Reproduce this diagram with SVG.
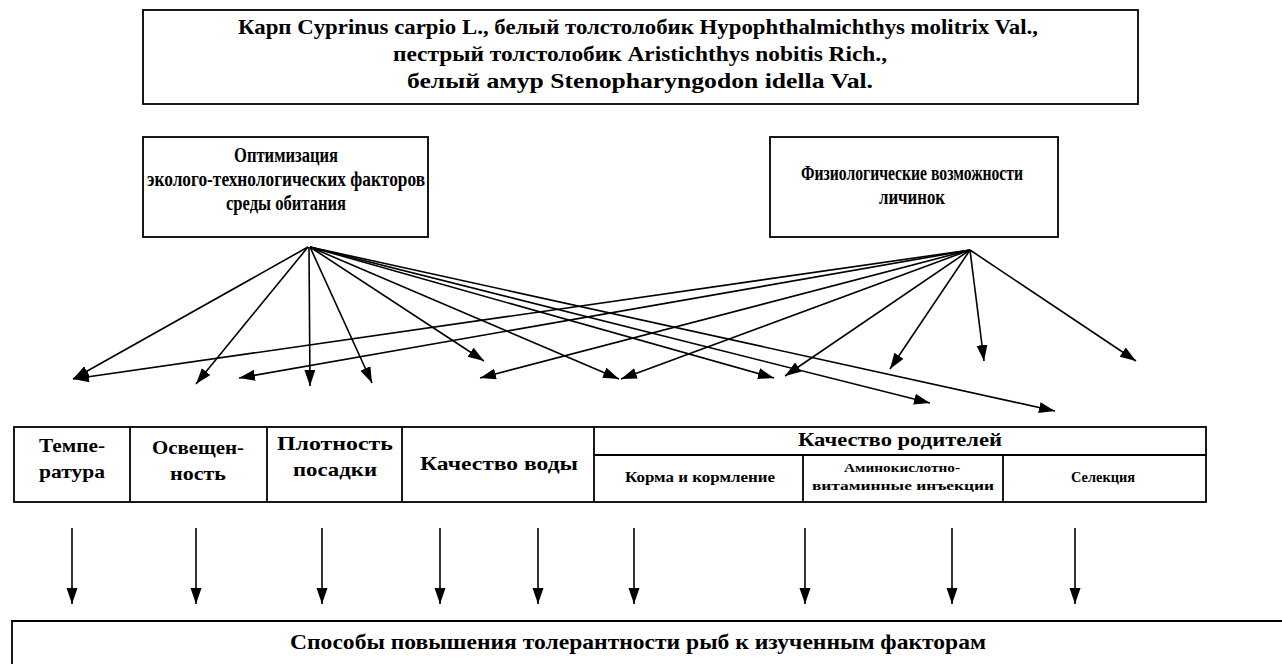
<svg xmlns="http://www.w3.org/2000/svg" width="1282" height="664" viewBox="0 0 1282 664">
<style>
.box{fill:#fff;stroke:#000;stroke-width:1.8}
.ln{stroke:#000;stroke-width:1.8;fill:none}
.t{font-family:"Liberation Serif","Times New Roman",serif;font-weight:bold;fill:#000;text-anchor:middle}
.a{stroke:#000;stroke-width:1.6;fill:none;marker-end:url(#ah)}
</style>
<defs>
<marker id="ah" markerUnits="userSpaceOnUse" markerWidth="18" markerHeight="12" refX="16" refY="5.5" orient="auto">
<path d="M0,0 L16,5.5 L0,11 z" fill="#000"/>
</marker>
</defs>
<rect width="1282" height="664" fill="#fff"/>
<g id="species">
<rect class="box" x="143" y="10" width="995" height="94"/>
<text class="t" x="638" y="34" font-size="21" textLength="800" lengthAdjust="spacingAndGlyphs">Карп Cyprinus carpio L., белый толстолобик Hypophthalmichthys molitrix Val.,</text>
<text class="t" x="640" y="61" font-size="21" textLength="494" lengthAdjust="spacingAndGlyphs">пестрый толстолобик Aristichthys nobitis Rich.,</text>
<text class="t" x="640" y="88" font-size="21" textLength="466" lengthAdjust="spacingAndGlyphs">белый амур Stenopharyngodon idella Val.</text>
</g>
<g id="optim">
<rect class="box" x="143" y="137" width="285" height="100"/>
<text class="t" x="286" y="162" font-size="20" textLength="104" lengthAdjust="spacingAndGlyphs">Оптимизация</text>
<text class="t" x="286" y="186" font-size="20" textLength="278" lengthAdjust="spacingAndGlyphs">эколого-технологических факторов</text>
<text class="t" x="286" y="210" font-size="20" textLength="120" lengthAdjust="spacingAndGlyphs">среды обитания</text>
</g>
<g id="physio">
<rect class="box" x="770" y="137" width="288" height="100"/>
<text class="t" x="912" y="180" font-size="20" textLength="222" lengthAdjust="spacingAndGlyphs">Физиологические возможности</text>
<text class="t" x="912" y="204" font-size="20" textLength="66" lengthAdjust="spacingAndGlyphs">личинок</text>
</g>
<g id="table">
<rect class="box" x="14" y="427" width="1192" height="75"/>
<line class="ln" x1="130" y1="427" x2="130" y2="502"/>
<line class="ln" x1="267" y1="427" x2="267" y2="502"/>
<line class="ln" x1="402" y1="427" x2="402" y2="502"/>
<line class="ln" x1="594" y1="427" x2="594" y2="502"/>
<line class="ln" x1="594" y1="455" x2="1206" y2="455"/>
<line class="ln" x1="803" y1="455" x2="803" y2="502"/>
<line class="ln" x1="1003" y1="455" x2="1003" y2="502"/>
</g>
<g id="temp"><text class="t" x="72" y="452" font-size="19" textLength="66" lengthAdjust="spacingAndGlyphs">Темпе-</text><text class="t" x="72" y="478" font-size="19" textLength="66" lengthAdjust="spacingAndGlyphs">ратура</text></g>
<g id="light"><text class="t" x="198" y="454" font-size="19" textLength="92" lengthAdjust="spacingAndGlyphs">Освещен-</text><text class="t" x="198" y="480" font-size="19" textLength="56" lengthAdjust="spacingAndGlyphs">ность</text></g>
<g id="density"><text class="t" x="335" y="450" font-size="19" textLength="116" lengthAdjust="spacingAndGlyphs">Плотность</text><text class="t" x="335" y="476" font-size="19" textLength="84" lengthAdjust="spacingAndGlyphs">посадки</text></g>
<g id="water"><text class="t" x="499" y="470" font-size="19" textLength="158" lengthAdjust="spacingAndGlyphs">Качество воды</text></g>
<g id="parents"><text class="t" x="900" y="446" font-size="19" textLength="204" lengthAdjust="spacingAndGlyphs">Качество родителей</text></g>
<g id="feed"><text class="t" x="700" y="482" font-size="14" textLength="150" lengthAdjust="spacingAndGlyphs">Корма и кормление</text></g>
<g id="amino"><text class="t" x="902" y="472" font-size="13" textLength="116" lengthAdjust="spacingAndGlyphs">Аминокислотно-</text><text class="t" x="903" y="490" font-size="13" textLength="182" lengthAdjust="spacingAndGlyphs">витаминные инъекции</text></g>
<g id="selection"><text class="t" x="1103" y="482" font-size="14" textLength="64" lengthAdjust="spacingAndGlyphs">Селекция</text></g>
<g id="methods">
<path class="ln" d="M12,664 L12,621 L1282,621"/>
<text class="t" x="638" y="649" font-size="21" textLength="696" lengthAdjust="spacingAndGlyphs">Способы повышения толерантности рыб к изученным факторам</text>
</g>
<g id="connectors">
<line class="a" x1="308" y1="247" x2="73" y2="379"/>
<line class="a" x1="308" y1="247" x2="196" y2="384"/>
<line class="a" x1="309" y1="247" x2="310" y2="386"/>
<line class="a" x1="310" y1="247" x2="372" y2="383"/>
<line class="a" x1="310" y1="247" x2="484" y2="361"/>
<line class="a" x1="310" y1="247" x2="619" y2="379"/>
<line class="a" x1="310" y1="247" x2="774" y2="378"/>
<line class="a" x1="310" y1="247" x2="930" y2="403"/>
<line class="a" x1="310" y1="247" x2="1055" y2="411"/>
<line class="a" x1="970" y1="250" x2="73" y2="379"/>
<line class="a" x1="970" y1="250" x2="239" y2="378"/>
<line class="a" x1="970" y1="250" x2="480" y2="378"/>
<line class="a" x1="970" y1="250" x2="621" y2="379"/>
<line class="a" x1="970" y1="250" x2="785" y2="376"/>
<line class="a" x1="970" y1="250" x2="890" y2="369"/>
<line class="a" x1="970" y1="250" x2="984" y2="361"/>
<line class="a" x1="970" y1="250" x2="1136" y2="361"/>
<line class="a" x1="72" y1="528" x2="72" y2="604"/>
<line class="a" x1="196" y1="528" x2="196" y2="604"/>
<line class="a" x1="322" y1="528" x2="322" y2="604"/>
<line class="a" x1="440" y1="528" x2="440" y2="604"/>
<line class="a" x1="538" y1="528" x2="538" y2="604"/>
<line class="a" x1="634" y1="528" x2="634" y2="604"/>
<line class="a" x1="805" y1="528" x2="805" y2="604"/>
<line class="a" x1="952" y1="528" x2="952" y2="604"/>
<line class="a" x1="1075" y1="528" x2="1075" y2="604"/>
</g>
</svg>
